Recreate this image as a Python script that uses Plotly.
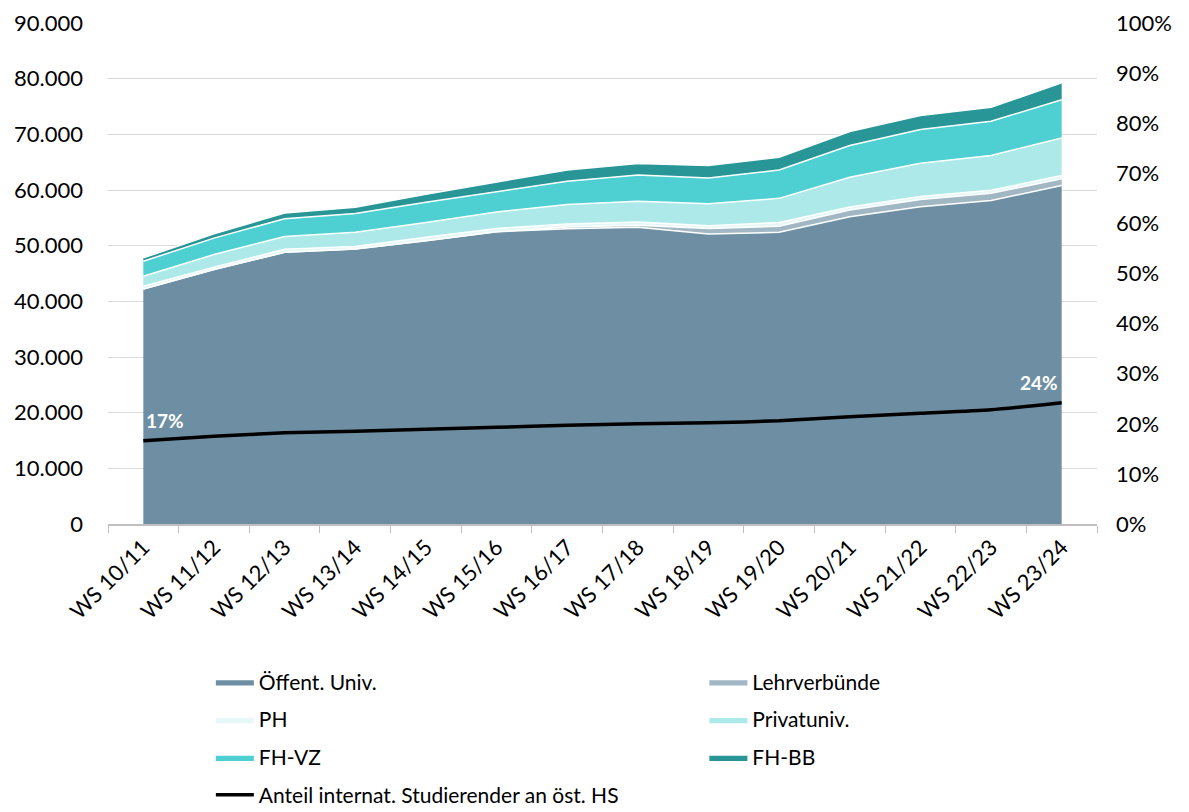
import plotly.graph_objects as go

# Winter semesters
categories = ["WS 10/11", "WS 11/12", "WS 12/13", "WS 13/14", "WS 14/15", "WS 15/16", "WS 16/17",
              "WS 17/18", "WS 18/19", "WS 19/20", "WS 20/21", "WS 21/22", "WS 22/23", "WS 23/24"]

# International students by type of institution (stacked)
oeff_univ = [42200, 45700, 48800, 49400, 50900, 52500, 53050, 53300, 52100, 52400, 55200, 57000, 58100, 60800]
lehrverbuende = [0, 0, 0, 0, 0, 0, 300, 350, 1000, 1100, 1200, 1300, 1300, 1200]
ph = [500, 450, 550, 450, 600, 600, 550, 600, 500, 650, 550, 550, 550, 600]
privatuniv = [1800, 2250, 2300, 2550, 2650, 2950, 3500, 3750, 3950, 4350, 5350, 5950, 6250, 6750]
fh_vz = [2700, 2950, 3200, 3400, 3650, 3650, 4150, 4700, 4600, 5100, 5700, 6050, 6150, 6850]
fh_bb = [600, 800, 1000, 1080, 1450, 1750, 2050, 2050, 2250, 2270, 2500, 2520, 2510, 3050]

# Share of international students at Austrian universities (%)
anteil = [16.6, 17.5, 18.2, 18.5, 18.9, 19.3, 19.7, 20.0, 20.2, 20.6, 21.4, 22.1, 22.8, 24.2]

series = [
    ("Öffent. Univ.", oeff_univ, "#6E8FA3", "legend"),
    ("Lehrverbünde", lehrverbuende, "#A2B7C4", "legend2"),
    ("PH", ph, "#E6F7F7", "legend"),
    ("Privatuniv.", privatuniv, "#ADE9E9", "legend2"),
    ("FH-VZ", fh_vz, "#4ED0D2", "legend"),
    ("FH-BB", fh_bb, "#289596", "legend2"),
]

FONT = "Lato"

fig = go.Figure()
for name, vals, color, lg in series:
    fig.add_trace(go.Scatter(
        x=categories, y=vals, name=name, mode="lines",
        stackgroup="one", fillcolor=color,
        line=dict(color="white", width=1.5),
        legend=lg, legendgroup=name,
        hovertemplate="%{x}: %{y:,d}<extra>" + name + "</extra>",
    ))

fig.add_trace(go.Scatter(
    x=categories, y=anteil, name="Anteil internat. Studierender an öst. HS",
    yaxis="y2", mode="lines",
    line=dict(color="black", width=3.5, shape="spline", smoothing=0.6),
    legend="legend", legendgroup="anteil",
    hovertemplate="%{x}: %{y:.1f}%<extra></extra>",
))

# Value labels on the first and last point of the share line
label_font = dict(family=FONT, size=19, color="white", weight="bold")
for idx, anchor in ((0, "left"), (len(anteil) - 1, "right")):
    fig.add_annotation(
        x=categories[idx], y=anteil[idx], xref="x", yref="y2",
        text=f"{round(anteil[idx])}%", showarrow=False,
        xanchor=anchor, yanchor="bottom", yshift=7,
        xshift=1 if anchor == "left" else -2,
        font=label_font,
    )

axis_font = dict(family=FONT, size=22, color="black")
legend_common = dict(
    orientation="v", yanchor="top", xanchor="left",
    font=dict(family=FONT, size=21, color="black"),
    bgcolor="rgba(0,0,0,0)", tracegroupgap=7.5, itemwidth=38,
    traceorder="grouped",
)

fig.update_layout(
    width=1189, height=812,
    margin=dict(l=108, r=92, t=23, b=288, autoexpand=False),
    paper_bgcolor="white", plot_bgcolor="white",
    separators=",.",
    showlegend=True,
    font=dict(family=FONT, color="black"),
    xaxis=dict(
        type="category", range=[-0.5, len(categories) - 0.5],
        tickson="boundaries", ticks="outside", ticklen=7, tickcolor="#BFBFBF",
        showline=True, linecolor="#BFBFBF", linewidth=1.5,
        showgrid=False, tickangle=-45, tickfont=axis_font,
    ),
    yaxis=dict(
        range=[0, 90000], dtick=10000, tickformat=",d",
        showgrid=True, gridcolor="#D9D9D9", gridwidth=1.3,
        zeroline=False, showline=False, tickfont=axis_font,
        ticklabelstandoff=24,
    ),
    yaxis2=dict(
        range=[0, 100], dtick=10, ticksuffix="%", overlaying="y", side="right",
        showgrid=False, zeroline=False, showline=False, tickfont=axis_font,
        ticklabelstandoff=18,
    ),
    legend=dict(x=0.104, y=-0.274, **legend_common),
    legend2=dict(x=0.603, y=-0.274, **legend_common),
)

fig.write_html("out.html")
